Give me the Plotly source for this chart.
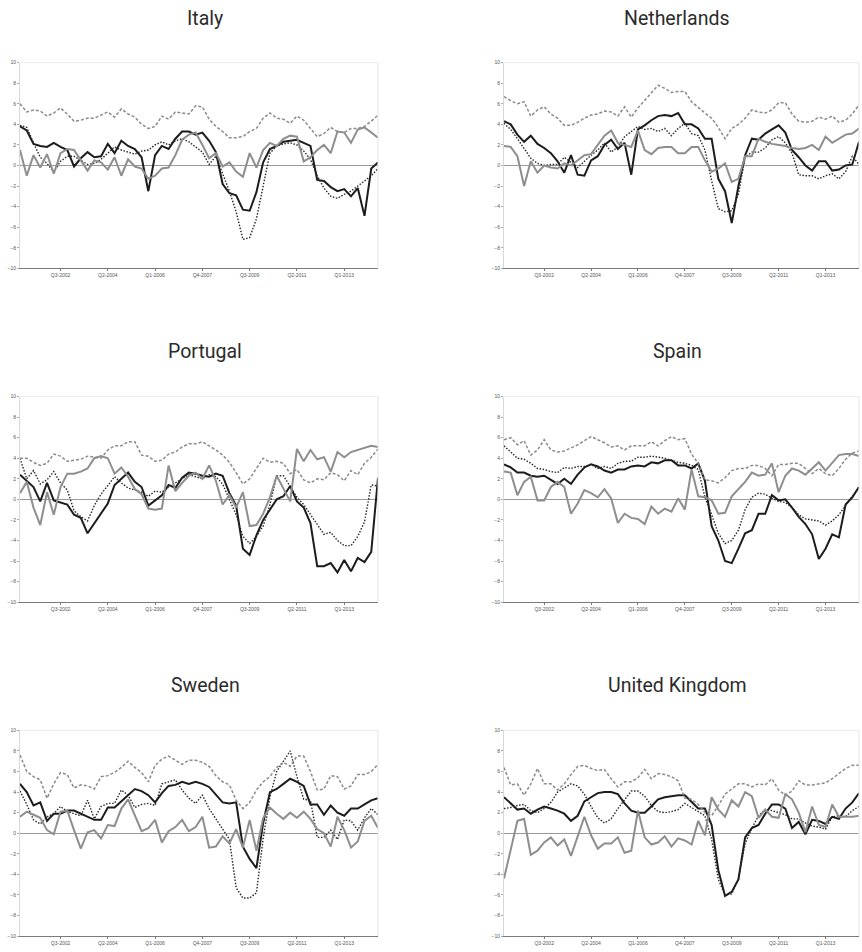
import plotly.graph_objects as go

quarters = []
for y in range(2001, 2015):
    for q in range(1, 5):
        quarters.append(f"Q{q}-{y}")
quarters = quarters[:54]  # Q1-2001 .. Q2-2014
x_idx = list(range(len(quarters)))
tick_idx = [6, 13, 20, 27, 34, 41, 48]
tick_text = [quarters[i] for i in tick_idx]

countries = ["Italy", "Netherlands", "Portugal", "Spain", "Sweden", "United Kingdom"]

# series: solid black, dotted black, dashed grey, solid grey
italy_black = [3.8,3.4,2.1,1.9,1.8,2.2,1.8,1.5,-0.1,0.7,1.3,0.8,0.9,2.1,1.2,2.4,1.9,1.6,0.8,-2.5,1.0,1.9,1.6,2.6,3.3,3.3,3.0,3.2,2.4,1.3,-1.8,-2.7,-2.9,-4.3,-4.4,-2.6,0.3,1.6,1.9,2.3,2.4,2.5,2.2,1.9,-1.4,-1.5,-2.1,-2.5,-2.3,-3.0,-2.2,-4.9,-0.3,0.3]
italy_dotted = [3.9,3.7,2.2,0.8,0.2,-0.6,0.4,0.9,0.9,0.5,0.1,0.2,0.6,1.2,1.8,1.5,1.3,1.1,1.4,1.5,2.0,2.3,2.0,2.4,2.6,2.3,1.8,1.3,0.1,0.9,-0.8,-2.5,-4.5,-7.2,-7.0,-5.2,-2.0,1.2,1.9,2.1,2.2,2.0,1.4,0.6,-1.0,-2.2,-3.0,-3.2,-2.8,-2.5,-2.0,-1.5,-1.0,-0.3]
italy_dashed = [6.0,5.2,5.4,5.3,4.8,5.1,5.6,5.0,4.3,4.4,4.6,4.6,4.9,5.2,4.7,5.5,5.0,4.7,4.0,3.6,3.8,4.8,4.5,5.2,5.1,5.0,5.8,5.7,4.5,3.8,3.3,2.7,2.7,2.8,3.3,3.6,4.6,5.1,4.6,4.5,4.1,4.8,4.4,3.6,2.8,3.1,3.7,3.3,3.2,3.6,3.6,3.8,4.3,4.9]
italy_grey = [1.5,-1.0,1.0,-0.2,1.1,-0.8,1.2,1.6,1.5,0.5,-0.5,0.5,0.3,-0.4,0.8,-1.0,0.6,-0.1,-0.3,-1.3,-1.0,-0.3,-0.2,1.0,2.5,3.0,3.2,2.0,0.7,1.2,-0.1,0.3,-0.6,-1.1,1.2,-0.2,1.5,2.2,1.9,2.6,2.9,2.8,0.4,0.8,1.5,2.0,1.2,3.3,3.2,2.2,3.5,3.7,3.2,2.7]

nl_black = [4.3,4.0,3.0,2.3,2.9,2.1,1.7,1.2,0.4,-0.7,1.0,-0.9,-1.0,0.5,0.9,2.0,2.5,1.6,2.2,-0.9,3.5,3.9,4.4,4.8,4.9,4.8,5.1,4.0,4.0,3.6,2.6,2.6,-1.3,-2.5,-5.6,-2.0,1.0,2.6,2.5,3.1,3.5,3.9,3.2,1.5,0.8,0.0,-0.5,0.4,0.4,-0.5,-0.4,0.0,0.1,2.3]
nl_dotted = [4.1,3.5,2.6,1.7,0.7,0.2,0.0,0.1,0.1,0.8,0.3,-0.2,0.4,1.0,1.5,2.2,1.3,1.8,2.8,3.3,3.8,3.5,3.6,3.3,3.6,2.9,3.6,4.1,3.1,2.9,1.5,-1.5,-4.2,-4.5,-4.4,-2.8,0.8,1.3,1.3,1.7,2.5,2.8,2.2,1.2,-0.9,-1.0,-1.0,-1.3,-1.0,-0.8,-1.3,-0.6,0.9,0.1]
nl_dashed = [6.7,6.3,6.0,6.2,4.8,5.4,5.7,5.0,4.6,3.9,3.9,4.2,4.6,4.9,5.0,5.3,5.2,4.8,5.7,4.7,5.6,6.3,7.0,7.8,7.5,7.1,7.2,7.2,6.2,5.6,5.1,4.6,3.7,2.6,3.6,4.0,4.6,5.4,5.2,5.1,5.4,6.1,6.1,5.0,4.3,4.2,4.3,4.7,4.5,4.8,4.2,4.4,5.0,5.9]
nl_grey = [1.9,1.8,0.9,-2.0,0.4,-0.7,0.0,-0.2,-0.3,0.2,0.0,0.5,1.0,1.1,2.0,2.9,3.4,2.2,2.0,1.8,3.4,1.5,1.1,1.7,1.8,1.8,1.2,1.2,1.8,1.8,0.5,-0.6,-0.3,0.2,-1.6,-1.3,0.9,0.9,2.6,2.3,2.1,2.0,1.9,1.7,1.6,1.7,2.0,1.5,2.8,2.2,2.6,3.0,3.1,3.6]

pt_black = [2.4,1.8,1.2,-0.2,1.6,-0.1,-0.3,-0.5,-1.5,-1.8,-3.3,-2.3,-1.4,-0.4,1.4,2.0,2.6,1.7,1.2,-0.6,-0.1,0.4,1.4,1.1,2.1,2.6,2.5,2.3,2.2,2.5,2.3,0.6,-0.6,-4.8,-5.4,-3.5,-2.0,-1.0,0.0,0.3,1.3,-0.2,-0.8,-2.3,-6.5,-6.5,-6.2,-7.1,-5.9,-7.0,-5.7,-6.1,-5.1,2.1]
pt_dotted = [4.0,2.0,2.8,1.5,1.9,2.7,1.6,0.9,-1.1,-1.7,-2.1,-0.6,0.5,1.4,2.2,1.6,1.1,0.9,0.7,0.3,0.8,0.7,1.2,1.6,2.0,2.4,2.2,2.0,2.4,2.2,1.5,0.0,-1.5,-3.6,-4.3,-3.6,-2.6,-0.5,2.3,2.3,1.2,0.2,-0.5,-1.5,-2.5,-3.4,-3.2,-4.0,-4.5,-4.5,-3.6,-2.2,1.4,1.3]
pt_dashed = [4.0,4.0,3.6,3.3,3.5,4.4,4.2,3.7,3.8,3.9,4.2,4.1,4.0,4.8,5.2,5.2,5.6,5.6,4.3,4.2,3.7,3.8,4.4,4.6,5.1,5.4,5.4,5.6,5.2,4.8,4.3,3.6,2.6,1.5,2.0,3.0,4.0,3.6,3.7,3.5,2.5,2.9,1.9,1.6,2.0,1.9,2.6,2.4,1.8,2.8,2.4,3.5,4.1,4.9]
pt_grey = [0.6,1.7,-0.8,-2.5,0.7,-1.5,1.2,2.5,2.5,2.7,3.0,4.0,4.2,4.0,2.5,3.1,2.2,1.0,0.5,-0.9,-1.0,-0.9,3.3,0.8,1.6,2.3,2.6,2.0,3.3,1.8,-0.5,0.4,-0.8,0.7,-2.6,-2.5,-1.4,0.2,2.3,1.0,-0.2,4.9,3.7,4.8,3.9,4.1,2.7,4.6,4.1,4.6,4.8,5.0,5.2,5.1]

es_black = [3.4,3.1,2.6,2.6,2.3,2.2,2.3,1.9,1.5,2.0,1.5,2.4,3.1,3.4,3.2,2.8,2.6,2.9,2.9,3.2,3.3,3.2,3.6,3.5,3.8,3.8,3.3,3.3,3.0,3.5,1.8,-2.6,-4.0,-6.0,-6.2,-4.8,-3.3,-3.0,-1.4,-1.4,0.4,-0.1,0.0,-0.8,-1.7,-2.4,-3.4,-5.8,-4.8,-3.4,-3.7,-0.5,0.2,1.2]
es_dotted = [5.2,4.6,4.0,3.9,3.5,3.0,2.9,2.7,2.6,3.1,3.0,3.2,3.2,3.4,3.0,3.2,3.0,3.5,3.7,3.7,4.1,4.1,4.2,4.1,4.0,3.8,3.6,3.5,3.3,2.9,0.2,-1.5,-3.3,-4.3,-4.0,-3.0,-1.0,0.2,0.6,0.5,0.1,-0.2,-0.3,-0.8,-1.5,-1.9,-2.0,-2.1,-2.5,-2.1,-1.5,-0.6,0.3,1.2]
es_dashed = [5.8,6.0,5.3,5.7,4.3,4.8,5.8,4.8,4.6,4.7,5.0,5.3,5.7,6.1,5.8,5.5,5.1,5.2,4.8,5.2,5.2,5.2,5.6,5.2,5.7,6.1,5.8,5.9,4.4,3.5,1.9,1.8,1.6,2.1,2.8,3.0,3.0,3.3,3.3,3.0,2.3,3.4,3.4,3.5,3.5,3.0,2.5,3.0,2.5,2.3,3.0,3.9,4.5,4.7]
es_grey = [2.7,2.6,0.4,1.7,2.2,-0.1,-0.1,1.2,1.7,1.2,-1.4,-0.4,0.9,0.6,0.2,1.0,0.1,-2.3,-1.4,-1.8,-1.9,-2.4,-0.7,-1.4,-0.9,-1.2,0.1,-1.0,2.9,0.3,0.2,-0.1,-1.4,-1.3,0.3,1.0,1.7,2.6,2.3,2.4,3.5,0.7,2.3,3.0,2.8,2.4,3.0,3.6,2.8,3.6,4.3,4.4,4.4,4.2]

se_black = [4.8,4.0,2.7,3.0,1.2,1.9,1.9,2.2,2.2,1.9,1.6,1.3,1.3,2.5,2.5,3.1,3.7,4.3,4.1,3.7,3.0,3.9,4.6,4.7,5.0,4.8,5.0,4.8,4.5,3.8,3.0,2.9,3.0,-1.3,-2.5,-3.4,1.0,4.0,4.3,4.8,5.3,5.0,4.6,2.8,2.8,1.8,2.7,2.0,1.7,2.4,2.4,2.8,3.2,3.4]
se_dotted = [4.1,2.8,1.3,0.9,1.6,1.9,2.6,2.1,1.9,1.7,3.2,1.4,2.6,2.9,2.9,4.2,3.7,2.5,2.8,2.9,2.7,4.8,5.0,5.2,4.2,3.4,2.9,3.7,2.4,1.4,0.5,-0.6,-5.3,-6.3,-6.3,-5.8,-0.5,3.5,6.0,7.0,8.0,5.5,3.3,3.2,-0.4,-0.4,0.3,-0.6,1.3,1.2,0.3,1.5,2.4,1.8]
se_dashed = [7.6,6.0,5.5,5.2,3.4,4.8,5.9,5.7,4.4,4.7,4.6,4.3,5.5,5.6,5.9,6.4,7.0,6.4,5.9,5.0,6.6,7.2,7.5,7.1,6.7,7.1,7.1,6.9,6.5,5.6,5.0,4.7,3.2,2.4,3.0,4.2,5.0,5.5,6.4,6.9,6.5,7.5,7.5,6.0,4.2,4.3,5.6,5.5,4.3,4.6,5.7,5.7,6.0,6.7]
se_grey = [1.6,2.1,1.8,1.5,0.3,-0.1,2.1,2.2,0.3,-1.5,0.1,0.3,-0.5,0.8,0.7,2.4,3.3,1.7,0.2,0.5,1.3,-0.9,0.2,0.6,1.3,0.2,0.6,1.6,-1.4,-1.3,-0.3,-1.0,0.4,-1.4,1.3,-1.7,1.5,2.5,1.9,1.4,2.0,1.5,2.1,1.4,0.4,0.0,-1.3,1.6,0.3,-1.4,-0.8,1.2,1.7,0.5]

uk_black = [3.5,2.9,2.3,2.4,1.9,2.3,2.6,2.4,2.2,1.9,1.2,1.7,3.1,3.5,3.9,4.0,4.0,3.8,2.9,2.2,2.0,2.0,2.6,3.3,3.5,3.6,3.7,3.7,3.0,2.4,2.4,0.8,-3.6,-6.1,-5.7,-4.5,-0.4,0.5,0.8,1.9,2.8,2.8,2.4,0.5,1.1,-0.1,1.3,1.2,0.9,1.6,1.4,2.4,3.0,3.9]
uk_dotted = [2.4,2.5,2.7,2.8,2.2,2.0,2.4,3.0,4.0,4.4,4.8,4.6,3.8,2.6,1.5,1.0,1.4,2.4,3.3,4.1,4.1,3.6,2.7,2.1,2.0,2.1,2.3,2.9,2.5,2.1,1.7,-0.6,-4.5,-6.0,-5.9,-4.4,-1.0,0.5,1.7,2.3,2.2,2.0,1.8,1.4,1.4,1.0,0.7,0.6,0.4,1.6,1.7,1.6,2.2,2.6]
uk_dashed = [6.4,4.7,4.8,3.7,4.8,6.3,4.8,4.8,4.2,4.8,5.7,6.5,6.6,6.3,6.1,6.2,5.3,4.5,5.0,5.0,5.4,6.2,5.3,5.8,5.7,5.5,5.1,3.4,3.3,2.8,2.0,1.7,2.7,3.8,4.3,4.8,4.8,4.5,4.8,4.7,5.3,4.2,3.7,4.1,5.1,4.7,4.7,4.8,4.9,5.3,5.8,6.3,6.6,6.6]
uk_grey = [-4.4,-1.7,1.2,1.4,-2.1,-1.7,-0.9,-0.4,-1.2,-0.6,-2.2,-0.3,1.6,-0.2,-1.5,-1.0,-1.0,-0.4,-1.9,-1.7,2.2,-0.4,-1.1,-0.9,-0.3,-1.3,-0.5,-0.7,-1.1,1.2,-0.2,3.5,2.3,1.6,3.2,2.6,4.0,3.6,1.5,2.3,1.6,1.5,3.8,3.3,2.0,0.1,2.6,0.8,0.6,2.8,1.6,1.6,1.6,1.7]

data = {
    "Italy": (italy_black, italy_dotted, italy_dashed, italy_grey),
    "Netherlands": (nl_black, nl_dotted, nl_dashed, nl_grey),
    "Portugal": (pt_black, pt_dotted, pt_dashed, pt_grey),
    "Spain": (es_black, es_dotted, es_dashed, es_grey),
    "Sweden": (se_black, se_dotted, se_dashed, se_grey),
    "United Kingdom": (uk_black, uk_dotted, uk_dashed, uk_grey),
}

W, H = 862, 952
col_x = [(20, 378), (504, 859)]
row_y = [(60, 267), (396, 603), (732, 939)]
title_pos = {"Italy": (205, 16), "Netherlands": (677, 16), "Portugal": (205, 351),
             "Spain": (677, 351), "Sweden": (205, 687), "United Kingdom": (677, 687)}

styles = [
    dict(color="#1c1c1c", width=2.0, dash="solid"),
    dict(color="#262626", width=1.4, dash="1.5px,1.6px"),
    dict(color="#8a8a8a", width=1.5, dash="3px,2px"),
    dict(color="#8e8e8e", width=2.0, dash="solid"),
]

fig = go.Figure()
layout = dict(width=W, height=H, margin=dict(l=0, r=0, t=0, b=0),
              paper_bgcolor="white", plot_bgcolor="white", showlegend=False,
              annotations=[], shapes=[])

for k, c in enumerate(countries):
    r, col = divmod(k, 2)
    n = k + 1
    xa = "x" if n == 1 else f"x{n}"
    ya = "y" if n == 1 else f"y{n}"
    for series, st in zip(data[c], styles):
        fig.add_trace(go.Scatter(x=x_idx, y=series, mode="lines", line=st,
                                 xaxis=xa, yaxis=ya, hoverinfo="skip", cliponaxis=False))
    l, rr = col_x[col]
    t, b = row_y[r]
    xkey = "xaxis" if n == 1 else f"xaxis{n}"
    ykey = "yaxis" if n == 1 else f"yaxis{n}"
    layout[xkey] = dict(domain=[l / W, rr / W], anchor=ya, range=[0, len(x_idx) - 1],
                        tickmode="array", tickvals=tick_idx, ticktext=tick_text,
                        showgrid=False, zeroline=False, showline=True,
                        linecolor="#7a7a7a", linewidth=1, ticks="outside",
                        ticklen=2, tickcolor="#7a7a7a",
                        tickfont=dict(size=5, color="#555", family="Liberation Sans"))
    layout[ykey] = dict(domain=[1 - b / H, 1 - t / H], anchor=xa, range=[-10, 10],
                        tickmode="array", tickvals=list(range(-10, 11, 2)),
                        showgrid=False, zeroline=True, zerolinecolor="#9a9a9a",
                        zerolinewidth=1, showline=True, linecolor="#d8d8d8",
                        linewidth=1, ticks="outside", ticklen=2, tickcolor="#aaa",
                        tickfont=dict(size=5, color="#555", family="Liberation Sans"))
    layout["shapes"].append(dict(type="line", xref=f"{xa} domain", yref=f"{ya} domain",
                                 x0=0, x1=1, y0=1, y1=1,
                                 line=dict(color="#ececec", width=1)))
    layout["shapes"].append(dict(type="line", xref=f"{xa} domain", yref=f"{ya} domain",
                                 x0=1, x1=1, y0=0, y1=1,
                                 line=dict(color="#e4e4e4", width=1)))
    tx, ty = title_pos[c]
    layout["annotations"].append(dict(text=c, x=tx / W, y=1 - ty / H, xref="paper",
                                      yref="paper", showarrow=False, xanchor="center",
                                      yanchor="middle",
                                      font=dict(size=19.5, color="#2b2b2b",
                                                family="Roboto, Arial")))

fig.update_layout(**layout)
fig.write_html("out.html", config={"displayModeBar": False},
               post_script="document.body.style.margin='0';document.body.style.padding='0';document.documentElement.style.overflow='hidden';")
